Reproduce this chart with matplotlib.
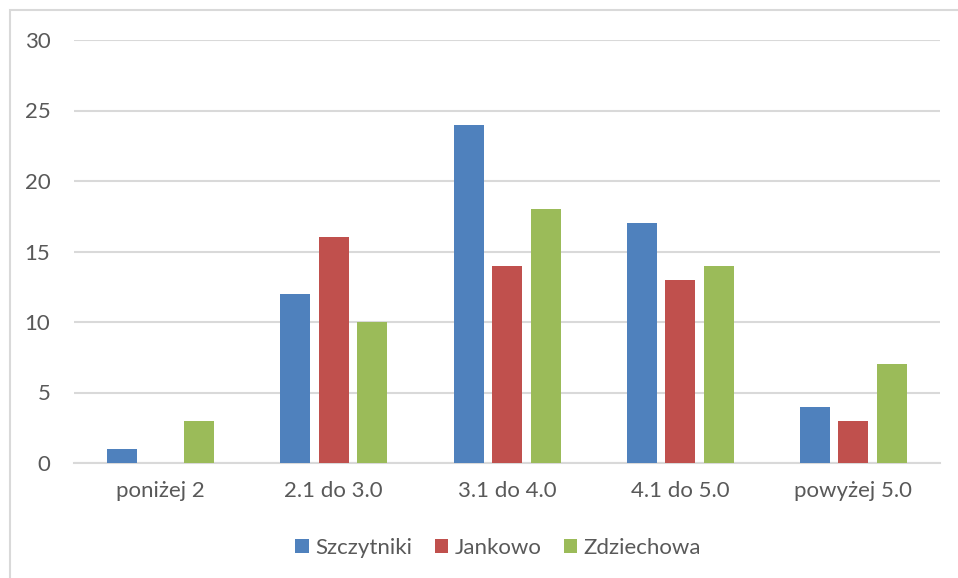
import matplotlib
matplotlib.use("Agg")
import matplotlib.pyplot as plt
import numpy as np
from matplotlib.patches import Rectangle

categories = ["poniżej 2", "2.1 do 3.0", "3.1 do 4.0", "4.1 do 5.0", "powyżej 5.0"]
series_names = ["Szczytniki", "Jankowo", "Zdziechowa"]
szczytniki = [1, 12, 24, 17, 4]
jankowo = [0, 16, 14, 13, 3]
zdziechowa = [3, 10, 18, 14, 7]
colors = ["#4F81BD", "#C0504D", "#9BBB59"]
yticks = [0, 5, 10, 15, 20, 25, 30]

plt.rcParams['font.family'] = ['Lato', 'DejaVu Sans']
W, H = 958, 578
fig = plt.figure(figsize=(W/100, H/100), dpi=100)
ax = fig.add_axes([74/W, 1-463/H, (940-74)/W, (463-40)/H])

x = np.arange(len(categories))
bw = 30/173.2
step = 38.5/173.2
for i, (vals, name, c) in enumerate(zip([szczytniki, jankowo, zdziechowa], series_names, colors)):
    ax.bar(x + (i-1)*step, vals, width=bw, color=c, label=name, zorder=3)

ax.set_xlim(-0.5, len(categories)-0.5)
ax.set_ylim(0, 30)
ax.set_yticks(yticks)
ax.set_xticks(x)
ax.set_xticklabels(categories)
ax.grid(axis='y', color='#D9D9D9', linewidth=1.5, zorder=0)
for s in ['top', 'right', 'left']:
    ax.spines[s].set_visible(False)
ax.spines['bottom'].set_color('#D9D9D9')
ax.spines['bottom'].set_linewidth(1.5)
ax.tick_params(axis='both', length=0, labelsize=16, colors='#595959')
ax.tick_params(axis='y', pad=17)
ax.tick_params(axis='x', pad=13)

leg = ax.legend(loc='center', bbox_to_anchor=(0.49, -0.2), ncol=3, frameon=False,
                fontsize=16, handlelength=0.6, handleheight=0.6, handletextpad=0.3,
                columnspacing=1.0, labelcolor='#595959')

fig.patches.append(Rectangle((10/W, -0.1), 1.2, 1-10/H+0.1, transform=fig.transFigure,
                             fill=False, edgecolor='#D9D9D9', linewidth=1.5))
fig.savefig("out.png", dpi=100)
